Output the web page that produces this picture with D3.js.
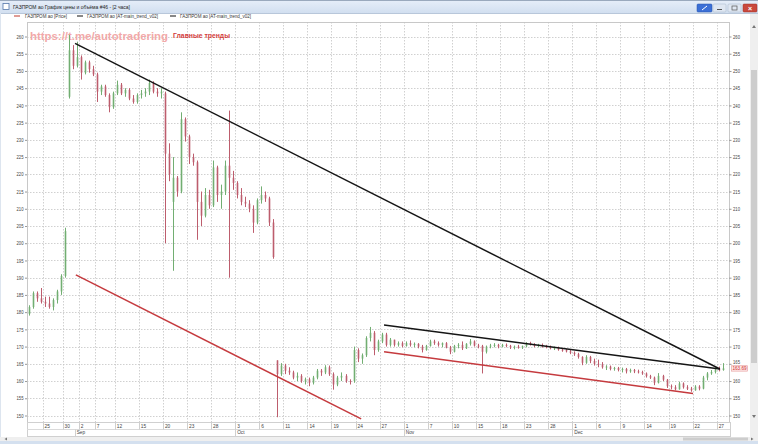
<!DOCTYPE html>
<html><head><meta charset="utf-8">
<script src="https://cdn.jsdelivr.net/npm/d3@7"></script>
<style>
body{margin:0;background:#fff;overflow:hidden}
svg{display:block}
text{font-family:"Liberation Sans",Arial,sans-serif}
</style>
</head><body>
<svg id="c" width="758" height="444"></svg>
<script>
// ---- DATA (2-hour candles, ГАЗПРОМ ао) ----
const opens = [
179.5,181.5,185.5,184,183,182.5,181.5,183.5,186,190.5,
242.5,256,251.5,254,249.5,252.5,250.5,249,244,245.5,
243,239.5,243.5,246,243.5,244.5,242,241,243,243.5,
244,246.5,244,243.5,243.5,226,212,219,215,236,
231,225,223.5,212,208,214,211,222,214,215,
222.5,219,217.5,214,212,211.5,210,206,212.5,214,
213,206,166,162,164.5,163,162.5,161,161.5,160,
160.5,159.5,161,163,162.5,164,162,159,161,161.5,
160,160,169,166.5,167.5,172.5,174,169,171.5,173.5,
170.5,172,170.5,171,170.2,171,170.5,170.8,170,169,
170.2,171.5,171,170.5,171,169.8,168.5,170.2,170.5,169.5,
170.8,171.5,170.3,170.2,168.5,170,170.3,170.5,170,170.5,
170.2,169.8,170,169.7,170.1,171,170.6,170.2,170.5,170,
169.8,169.5,169.7,169.1,169,168.6,168.2,167.8,167,165.3,
167,165.8,165,164.8,164,164.2,163.5,163.8,163.2,163.5,
162.8,163.2,162.8,162.6,162.2,161.4,161,159.5,161.5,160.4,
158.5,158.2,157.6,159.3,158.2,157.8,157.3,158.4,157.8,161,
162.2,162.6,163.4,163.2];
const highs = [
182,186,186,187,184.5,184.5,184,186.5,191,204.5,
260.5,257.5,258.5,254.5,253,253,251.5,249.5,246,246,
243.5,244,247.2,246.5,245,245,243,243.5,244.5,245,
247.5,247,245,245,244,229,225,219.5,238,236.5,
231.5,226,224,215,216,215.5,224,222.5,217,224,
238.5,221,218,216,213.5,212.5,211,213,216.5,215,
213.5,207,166,165.2,165,164,163,162.5,162,161,
161,161.5,163.5,163.5,164.6,164.5,162.5,161.5,162.5,162,
160.5,170,169.5,168,173,175.7,174.5,172,174,174,
172.5,172,171.5,171.5,171.5,171.8,171.2,171,170.5,170.5,
172,172,171.5,171.2,171.3,170.2,170.5,171,171.5,171,
172.2,171.8,170.8,170.5,170.3,170.8,171,170.8,170.8,170.9,
170.5,170.3,170.5,170.3,171.3,171.4,171,170.8,170.9,170.5,
170.3,170,170,169.6,169.3,169,168.6,168.2,167.2,167.5,
167.3,166.5,166.2,165.5,164.6,164.5,164.1,164.1,163.9,163.8,
163.6,163.5,163.3,163,162.5,161.8,161.3,162.3,161.8,160.6,
159,158.8,159.8,159.6,158.8,158.3,158.8,158.8,161.5,162.6,
163.2,164,164.2,165.2];
const lows = [
179,181,183,182.5,181.5,181,180.5,182.5,185,190,
242,250.5,251,247.5,249,249.5,248.5,241,243,242.5,
238,239,243,243,242.5,241.5,240.5,240.5,242,242.5,
243,243.5,242.5,242,200,218,192,213.5,214.5,229.5,
223,222.5,201,205,207.5,210,210.5,212,210,214,
190,215.5,213,211,210.5,209,203,205.5,211.5,212,
205,195.5,149.5,161.5,162,161.8,160.5,160,159.5,159,
158.5,159,160.5,161.5,162,161.5,157.5,158.5,160,159.5,
159,159.5,165.5,165,167,171.5,167.5,168.5,171,170,
170,170,170,169.8,170,170,169.8,169.5,168.3,168.8,
170,170.5,170,169.8,169.5,167.8,168.3,169.5,169,169.3,
170.3,170,169.5,162.2,168,169.5,169.8,169.5,169.8,169.8,
169.3,169.2,169.4,169.3,169.8,170.3,169.8,169.8,169.7,169.5,
169.2,169,168.8,168.5,168.3,167.8,167.3,166.5,164.6,165,
165.2,164.5,164,163.6,163.2,163.1,163,162.8,162.5,162.2,
162.4,162.3,162.2,161.8,161,160.6,158.8,159.3,160,158,
157.6,157.3,157.5,157.8,157.4,156.9,157.2,157.3,157.6,160.2,
161.8,162.2,162.8,163];
const closes = [
181.5,185.5,184,183,182.5,181.5,183.5,186,190.5,203.5,
256,251.5,254,249.5,252.5,250.5,249,244,245.5,243,
239.5,243.5,246,243.5,244.5,242,241,243,243.5,244,
246.5,244,243.5,244,226,220,219,215,236,231,
225,223.5,212,208,214,211,222,214,215,222.5,
219,217.5,214,212,211.5,210,206,212.5,214,213,
206,196,162,164.5,163,162.5,161,161.5,160,160.5,
159.5,161,163,162.5,164,162,159,161,161.5,160,
159.8,169,166.5,167.5,172.5,174,169,171.5,173.5,170.5,
172,170.5,171,170.2,171,170.5,170.8,170,169,170.2,
171.5,171,170.5,171,169.8,168.5,170.2,170.5,169.5,170.8,
171.5,170.3,170.2,168.5,170,170.3,170.5,170,170.5,170.2,
169.8,170,169.7,170.1,171,170.6,170.2,170.5,170,169.8,
169.5,169.7,169.1,169,168.6,168.2,167.8,167,165.3,167,
165.8,165,164.8,164,164.2,163.5,163.8,163.2,163.5,162.8,
163.2,162.8,162.6,162.2,161.4,161,159.5,161.5,160.4,158.5,
158.2,157.6,159.3,158.2,157.8,157.3,158.4,157.8,161,162.2,
162.6,163.4,163.2,163.69];

// day-tick labels and the candle index where that trading day starts
const dayLabels = ["25","30","2","7","12","15","20","23","28","3","6","11","14","19","24","27",
                   "1","7","10","15","18","23","28","1","6","9","14","19","22","27"];
const dayStarts = [4,9,13,17,22,28,34,40,46,52,58,64,70,76,82,88,
                   94,100,106,112,118,124,130,136,142,148,154,160,166,172];
const monthLabels = ["Sep","Oct","Nov","Dec"];
const monthStarts = [12,52,94,136];
const priceTicks = [150,155,160,165,170,175,180,185,190,195,200,205,210,215,220,225,230,235,240,245,250,255,260];

// trend lines: [startIndex, startPrice, endIndex, endPrice]
const blackTrends = [[11.6,258.0,172.3,163.5],[88.6,176.3,172.3,163.5]];
const redTrends   = [[11.8,190.8,82.9,149.0],[88.6,168.5,165.6,156.4]];
const lastPrice = 163.69;

const titleText = "ГАЗПРОМ ао График цены и объёма #46 - [2 часа]";
const legendItems = ["ГАЗПРОМ ао [Price]","ГАЗПРОМ ао [AT-main_trend_v02]","ГАЗПРОМ ао [AT-main_trend_v02]"];

// ---- DRAW ----
const svg = d3.select("#c");
const P = {l:27, r:729, t:22, b:422};
const x = d3.scaleLinear().domain([0, closes.length-1]).range([28.5, 722.7]);
const y = d3.scaleLinear().domain([150,260]).range([415.5,36.5]);
const UP="#72ae72", DOWN="#bd5d6d";

// window chrome
const defs = svg.append("defs");
const lg = defs.append("linearGradient").attr("id","tb").attr("x1",0).attr("y1",0).attr("x2",0).attr("y2",1);
lg.append("stop").attr("offset","0").attr("stop-color","#e6eef9");
lg.append("stop").attr("offset","1").attr("stop-color","#d2dff0");
svg.append("rect").attr("x",0).attr("y",0).attr("width",758).attr("height",13).attr("fill","url(#tb)");
svg.append("line").attr("x1",0).attr("x2",758).attr("y1",0.5).attr("y2",0.5).attr("stroke","#9aa9bd");
svg.append("line").attr("x1",0).attr("x2",758).attr("y1",13.5).attr("y2",13.5).attr("stroke","#b8c7da");
svg.append("rect").attr("x",3).attr("y",3.5).attr("width",6).attr("height",6).attr("fill","#fff").attr("stroke","#5577aa").attr("stroke-width",0.8);
svg.append("text").attr("x",13).attr("y",9.3).attr("font-size",5.6).attr("fill","#222")
  .attr("textLength",117).attr("lengthAdjust","spacingAndGlyphs").text(titleText);
svg.append("rect").attr("x",697).attr("y",4).attr("width",15).attr("height",8).attr("rx",1).attr("fill","#3b6fd6").attr("stroke","#2a55a8").attr("stroke-width",0.5);
svg.append("line").attr("x1",702).attr("y1",10).attr("x2",707).attr("y2",6).attr("stroke","#fff").attr("stroke-width",1);
[[713,"#dfe7f2"],[728,"#dfe7f2"]].forEach(b=>{
  svg.append("rect").attr("x",b[0]).attr("y",4).attr("width",13).attr("height",8).attr("rx",1).attr("fill",b[1]).attr("stroke","#a5b4c8").attr("stroke-width",0.5);
});
svg.append("line").attr("x1",717).attr("x2",722).attr("y1",9.5).attr("y2",9.5).attr("stroke","#555");
svg.append("rect").attr("x",732).attr("y",6).attr("width",5).attr("height",4).attr("fill","none").attr("stroke","#555").attr("stroke-width",0.7);
svg.append("rect").attr("x",743).attr("y",4).attr("width",14).attr("height",8).attr("rx",1).attr("fill","#c9483d").attr("stroke","#9c3028").attr("stroke-width",0.5);
svg.append("text").attr("x",750).attr("y",10.6).attr("text-anchor","middle").attr("font-size",7).attr("font-weight","bold").attr("fill","#fff").text("×");
svg.append("line").attr("x1",0.5).attr("x2",0.5).attr("y1",13).attr("y2",444).attr("stroke","#dde5ef");

// legend
const legX = [[14,25],[77,87],[170,180]];
const legC = ["#c0392b","#111","#111"];
const legW = [42,71,71];
legendItems.forEach((t,k)=>{
  svg.append("line").attr("x1",legX[k][0]).attr("x2",legX[k][0]+6).attr("y1",16).attr("y2",16).attr("stroke",legC[k]).attr("stroke-width",1);
  svg.append("text").attr("x",legX[k][1]).attr("y",17.8).attr("font-size",5).attr("fill","#333")
    .attr("textLength",legW[k]).attr("lengthAdjust","spacingAndGlyphs").text(t);
});

// plot frame
svg.append("rect").attr("x",P.l+0.5).attr("y",P.t+0.5).attr("width",P.r-P.l).attr("height",P.b-P.t)
  .attr("fill","#fff").attr("stroke","#c8c8c8");

// grid
const grid = svg.append("g").attr("stroke","#c4c4c4").attr("stroke-dasharray","1.5,1.5").attr("stroke-width",0.8);
grid.selectAll("line.h").data(priceTicks).join("line")
  .attr("x1",P.l).attr("x2",P.r).attr("y1",d=>Math.round(y(d))+0.5).attr("y2",d=>Math.round(y(d))+0.5);
grid.selectAll("line.v").data(dayStarts).join("line")
  .attr("y1",P.t).attr("y2",P.b).attr("x1",d=>Math.round(x(d-0.5))+0.5).attr("x2",d=>Math.round(x(d-0.5))+0.5);

// y axes
function styleAxis(g){
  g.select(".domain").remove();
  g.selectAll(".tick line").attr("stroke","#999");
  g.selectAll(".tick text").attr("font-size",5.2).attr("fill","#444").attr("font-family","Liberation Sans, Arial, sans-serif")
    .attr("textLength",7).attr("lengthAdjust","spacingAndGlyphs");
}
svg.append("g").attr("transform",`translate(${P.l},0)`)
  .call(d3.axisLeft(y).tickValues(priceTicks).tickSize(2).tickPadding(1.5)).call(styleAxis);
const ra = svg.append("g").attr("transform",`translate(${P.r},0)`)
  .call(d3.axisRight(y).tickValues(priceTicks).tickSize(2.5).tickPadding(1.5)).call(styleAxis);
// the reference nudges the label next to the last-price box upward
ra.selectAll(".tick").filter(d=>d===165).select("text").attr("dy","-0.05em");

// watermark
svg.append("text").attr("x",30).attr("y",39.5).attr("font-size",11).attr("font-weight","bold")
  .attr("fill","#f2a9a9").attr("textLength",138).attr("lengthAdjust","spacingAndGlyphs").text("https://t.me/autotradering");
svg.append("text").attr("x",173).attr("y",37.5).attr("font-size",8).attr("font-weight","bold")
  .attr("fill","#d23c3c").attr("textLength",57).attr("lengthAdjust","spacingAndGlyphs").text("Главные тренды");

// candles
const data = closes.map((c,i)=>({i,o:opens[i],h:highs[i],l:lows[i],c}));
const cg = svg.append("g");
cg.selectAll("line").data(data).join("line")
  .attr("x1",d=>Math.round(x(d.i))+0.5).attr("x2",d=>Math.round(x(d.i))+0.5)
  .attr("y1",d=>y(d.h)).attr("y2",d=>y(d.l))
  .attr("stroke",d=>d.c>=d.o?UP:DOWN).attr("stroke-width",1);
cg.selectAll("rect").data(data).join("rect")
  .attr("x",d=>Math.round(x(d.i))-0.3).attr("width",1.6)
  .attr("y",d=>y(Math.max(d.o,d.c))).attr("height",d=>Math.max(1,Math.abs(y(d.o)-y(d.c))))
  .attr("fill",d=>d.c>=d.o?UP:DOWN);

// trend lines
svg.append("g").selectAll("line").data(blackTrends).join("line")
  .attr("x1",d=>x(d[0])).attr("y1",d=>y(d[1])).attr("x2",d=>x(d[2])).attr("y2",d=>y(d[3]))
  .attr("stroke","#151515").attr("stroke-width",1.5);
svg.append("g").selectAll("line").data(redTrends).join("line")
  .attr("x1",d=>x(d[0])).attr("y1",d=>y(d[1])).attr("x2",d=>x(d[2])).attr("y2",d=>y(d[3]))
  .attr("stroke","#c53a3e").attr("stroke-width",1.5);

// last price label
svg.append("rect").attr("x",731.5).attr("y",y(lastPrice)-2.6).attr("width",16).attr("height",5.4)
  .attr("fill","#fde6e6").attr("stroke","#e59a9a").attr("stroke-width",0.6);
svg.append("text").attr("x",732.5).attr("y",y(lastPrice)+1.7).attr("font-size",4.6).attr("fill","#d03030")
  .attr("textLength",14).attr("lengthAdjust","spacingAndGlyphs").text(lastPrice.toFixed(2));

// x axis rows
const xa = svg.append("g");
xa.append("rect").attr("x",P.l+0.5).attr("y",P.b+0.5).attr("width",P.r-P.l+1).attr("height",14).attr("fill","#fff").attr("stroke","#d0d0d0");
xa.append("line").attr("x1",P.l).attr("x2",P.r+1).attr("y1",429.5).attr("y2",429.5).attr("stroke","#dadada");
xa.selectAll("line.d").data(dayStarts).join("line").attr("class","d")
  .attr("x1",d=>Math.round(x(d-0.5))+0.5).attr("x2",d=>Math.round(x(d-0.5))+0.5)
  .attr("y1",P.b).attr("y2",429.5).attr("stroke","#cfcfcf");
xa.selectAll("text.d").data(dayStarts).join("text").attr("class","d")
  .attr("x",d=>x(d-0.5)+2).attr("y",427.5).attr("font-size",4.8).attr("fill","#444")
  .text((d,k)=>dayLabels[k]);
xa.selectAll("line.m").data(monthStarts).join("line").attr("class","m")
  .attr("x1",d=>Math.round(x(d-0.5))+0.5).attr("x2",d=>Math.round(x(d-0.5))+0.5)
  .attr("y1",429.5).attr("y2",436).attr("stroke","#cfcfcf");
xa.selectAll("text.m").data(monthStarts).join("text").attr("class","m")
  .attr("x",d=>x(d-0.5)+2).attr("y",434.3).attr("font-size",4.8).attr("fill","#444")
  .text((d,k)=>monthLabels[k]);

// scrollbars
svg.append("rect").attr("x",750).attr("y",14).attr("width",8).attr("height",423).attr("fill","#efefef");
svg.append("rect").attr("x",751).attr("y",70).attr("width",6).attr("height",293).attr("fill","#cdcdcd");
svg.append("path").attr("d","M752,28 L754,25 L756,28Z").attr("fill","#777");
svg.append("path").attr("d","M752,415 L754,418 L756,415Z").attr("fill","#777");
svg.append("rect").attr("x",0).attr("y",437).attr("width",758).attr("height",4).attr("fill","#efefef");
svg.append("rect").attr("x",683).attr("y",437.5).attr("width",65).attr("height",3).attr("fill","#cdcdcd");
svg.append("path").attr("d","M7,437.5 L4.5,439 L7,440.5Z").attr("fill","#777");
svg.append("path").attr("d","M751,437.5 L753.5,439 L751,440.5Z").attr("fill","#777");
svg.append("rect").attr("x",0).attr("y",441).attr("width",758).attr("height",3).attr("fill","#d4e0ef");
</script>
</body></html>
